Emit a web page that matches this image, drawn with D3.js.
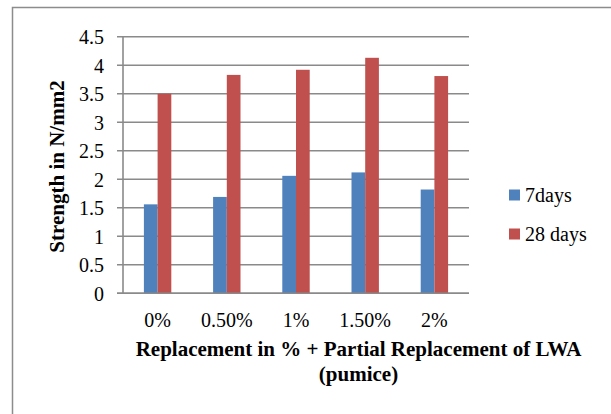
<!DOCTYPE html>
<html>
<head>
<meta charset="utf-8">
<script src="https://cdn.jsdelivr.net/npm/d3@7/dist/d3.min.js"></script>
<style>
  html, body { margin: 0; padding: 0; background: #fff; }
  svg { display: block; }
</style>
</head>
<body>
<svg id="chart" width="611" height="414"></svg>
<script>
const categories = ["0%", "0.50%", "1%", "1.50%", "2%"];
const seriesNames = ["7days", "28 days"];
const days7 = [1.56, 1.69, 2.06, 2.12, 1.82];
const days28 = [3.5, 3.83, 3.92, 4.13, 3.81];
const yTicks = [0, 0.5, 1, 1.5, 2, 2.5, 3, 3.5, 4, 4.5];
const colors = ["#4F81BD", "#C0504D"];

(function () {
const FONT = "'Liberation Serif', 'Times New Roman', Tinos, 'DejaVu Serif', serif";
const svg = d3.select("#chart")
  .attr("font-family", FONT);

// outer frame
svg.append("rect")
  .attr("x", 12.5).attr("y", 7.5)
  .attr("width", 700).attr("height", 500)
  .attr("fill", "none").attr("stroke", "#8c8c8c").attr("stroke-width", 1.5);

const plotLeft = 123, plotRight = 469, plotTop = 36.7, plotBottom = 293.3;

const x0 = d3.scaleBand().domain(categories).range([plotLeft, plotRight])
  .paddingInner(0.604).paddingOuter(0.302);
const x1 = d3.scaleBand().domain(seriesNames).range([0, x0.bandwidth()]);
const y = d3.scaleLinear().domain([0, 4.5]).range([plotBottom, plotTop]);

// gridlines
svg.append("g").selectAll("line").data(yTicks).join("line")
  .attr("x1", plotLeft - 6).attr("x2", plotRight)
  .attr("y1", d => y(d)).attr("y2", d => y(d))
  .attr("stroke", "#8a8a8a").attr("stroke-width", 1.6);

// y axis line
svg.append("line")
  .attr("x1", plotLeft).attr("x2", plotLeft)
  .attr("y1", y(4.5)).attr("y2", y(0))
  .attr("stroke", "#8a8a8a").attr("stroke-width", 1.6);

// bars
const data = categories.map((c, i) => ({ c, vals: [days7[i], days28[i]] }));
const groups = svg.append("g").selectAll("g").data(data).join("g")
  .attr("transform", d => `translate(${x0(d.c)},0)`);
groups.selectAll("rect").data(d => d.vals.map((v, j) => ({ v, s: seriesNames[j], j })))
  .join("rect")
  .attr("x", d => x1(d.s))
  .attr("width", x1.bandwidth())
  .attr("y", d => y(d.v))
  .attr("height", d => y(0) - y(d.v))
  .attr("fill", d => colors[d.j]);

// baseline over bars
svg.append("line")
  .attr("x1", plotLeft - 6).attr("x2", plotRight)
  .attr("y1", y(0)).attr("y2", y(0))
  .attr("stroke", "#8a8a8a").attr("stroke-width", 1.6);

// y tick labels
svg.append("g").selectAll("text").data(yTicks).join("text")
  .attr("x", 104).attr("y", d => y(d) + 7.5)
  .attr("text-anchor", "end")
  .attr("font-family", FONT).attr("font-size", 20)
  .text(d => d);

// x tick labels
svg.append("g").selectAll("text").data(categories).join("text")
  .attr("x", d => x0(d) + x0.bandwidth() / 2).attr("y", 326.5)
  .attr("text-anchor", "middle")
  .attr("font-family", FONT).attr("font-size", 20)
  .text(d => d);

// axis titles
svg.append("text")
  .attr("transform", "translate(64,166.5) rotate(-90)")
  .attr("text-anchor", "middle")
  .attr("font-family", FONT).attr("font-size", 21).attr("font-weight", "bold")
  .text("Strength in N/mm2");

svg.append("text")
  .attr("x", 358.5).attr("y", 356)
  .attr("text-anchor", "middle")
  .attr("font-family", FONT).attr("font-size", 21).attr("font-weight", "bold")
  .text("Replacement in % + Partial Replacement of LWA");
svg.append("text")
  .attr("x", 358.5).attr("y", 381)
  .attr("text-anchor", "middle")
  .attr("font-family", FONT).attr("font-size", 21).attr("font-weight", "bold")
  .text("(pumice)");

// legend
const legend = svg.append("g").selectAll("g").data(seriesNames).join("g")
  .attr("transform", (d, i) => `translate(509,${189.5 + i * 39})`);
legend.append("rect").attr("width", 11).attr("height", 11)
  .attr("fill", (d, i) => colors[i]);
legend.append("text").attr("x", 16).attr("y", 12)
  .attr("font-family", FONT).attr("font-size", 20)
  .text(d => d);
})();
</script>
</body>
</html>
